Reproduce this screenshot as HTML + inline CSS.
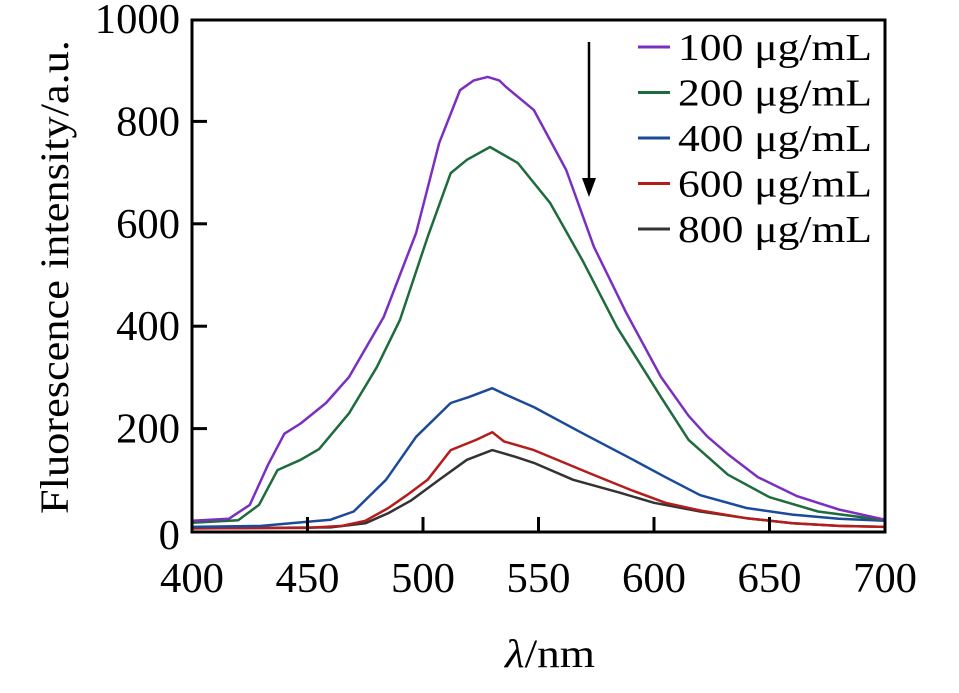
<!DOCTYPE html>
<html><head><meta charset="utf-8"><style>
html,body{margin:0;padding:0;background:#fff;}
svg{display:block;font-family:"Liberation Serif",serif;}
</style></head><body>
<svg id="chart" width="959" height="693" viewBox="0 0 959 693">
<g id="series"></g>
<g id="axes"></g>
<line x1="589" y1="42" x2="589" y2="180" stroke="#000" stroke-width="2.5"/>
<polygon points="582,178 596,178 589,197" fill="#000"/>
<g id="legend"></g>
<text x="550" y="667" font-size="40" text-anchor="middle" textLength="90" lengthAdjust="spacingAndGlyphs"><tspan font-style="italic">λ</tspan>/nm</text>
<text transform="translate(68,277) rotate(-90)" font-size="40" text-anchor="middle" textLength="474" lengthAdjust="spacingAndGlyphs">Fluorescence intensity/a.u.</text>
</svg>
<script>
const xTicks=[400,450,500,550,600,650,700];
const yTicks=[0,200,400,600,800,1000];
const seriesNames=["100 μg/mL","200 μg/mL","400 μg/mL","600 μg/mL","800 μg/mL"];
const seriesColors=["#7b2fc0","#1e6b3c","#1c4a9a","#b51c1c","#333333"];
const s100λ=[400,416,425,433,440,447,458,468,483,497,507,516,522,528,533,536,548,562,574,588,603,615,623,632,645,662,680,700];
const s100v=[20,24,51,130,190,210,250,301,418,582,758,861,880,887,880,867,822,705,555,426,301,225,185,150,105,68,42,22];
const s200λ=[400,420,429,437,447,455,468,480,490,502,512,519,529,541,555,569,584,603,615,632,650,671,700];
const s200v=[16,21,51,119,139,160,230,320,412,574,699,725,750,719,641,529,398,262,178,110,66,38,21];
const s400λ=[400,430,450,460,470,484,497,512,520,530,535,548,569,591,605,620,640,660,680,700];
const s400v=[8,10,18,22,38,100,184,250,262,279,268,242,191,139,105,70,45,32,24,20];
const s600λ=[400,450,465,475,485,493,502,512,523,530,535,548,572,590,605,620,640,660,680,700];
const s600v=[5,6,10,20,45,70,100,158,178,193,175,158,113,80,55,40,25,15,10,8];
const s800λ=[400,460,475,485,495,507,519,530,540,548,565,585,600,620,640,660,680,700];
const s800v=[5,7,15,35,60,100,139,158,145,133,100,75,55,38,25,15,10,8];
const seriesX=[s100λ,s200λ,s400λ,s600λ,s800λ];
const seriesY=[s100v,s200v,s400v,s600v,s800v];
const NS="http://www.w3.org/2000/svg";
const X0=192,X1=885,Y0=531,Y1=19;
function xs(v){return X0+(v-400)/300*(X1-X0);}
function ys(v){return Y0-v/1000*(Y0-Y1);}
function mk(t,a,p){const e=document.createElementNS(NS,t);for(const k in a)e.setAttribute(k,a[k]);p.appendChild(e);return e;}
const sg=document.getElementById('series');
for(let i=seriesX.length-1;i>=0;i--){
 const d=seriesX[i].map((x,j)=>(j?'L':'M')+xs(x).toFixed(1)+','+ys(seriesY[i][j]).toFixed(1)).join('');
 const p=mk('path',{d:d,fill:'none',stroke:seriesColors[i],'stroke-width':2.5,'stroke-linejoin':'round'},sg);
 
 
}
const ax=document.getElementById('axes');
const fr=mk('rect',{x:X0,y:20,width:X1-X0,height:532-20,fill:'none',stroke:'#000','stroke-width':3},ax);


xTicks.forEach(t=>{
 const x=xs(t);
 if(t>400&&t<700){const l=mk('line',{x1:x,y1:532,x2:x,y2:517,stroke:'#000','stroke-width':3},ax);
 
 }
 const tx=mk('text',{x:x,y:592,'font-size':42,'text-anchor':'middle',textLength:64,lengthAdjust:'spacingAndGlyphs'},ax);tx.textContent=t;
 
 
});
yTicks.forEach(t=>{
 const y=ys(t);
 if(t>0&&t<1000){const l=mk('line',{x1:X0,y1:y,x2:X0+15,y2:y,stroke:'#000','stroke-width':3},ax);
 
 }
 const s=String(t);
 const tx=mk('text',{x:180,y:(t===0?549:y+14),'font-size':42,'text-anchor':'end',textLength:21.3*s.length,lengthAdjust:'spacingAndGlyphs'},ax);tx.textContent=s;
 
 
});
const lg=document.getElementById('legend');
seriesNames.forEach((n,i)=>{
 const y=47+i*45.5;
 const l=mk('line',{x1:638,y1:y,x2:670,y2:y,stroke:seriesColors[i],'stroke-width':3},lg);
 
 
 const t=mk('text',{x:678,y:y+13,'font-size':38,textLength:194,lengthAdjust:'spacingAndGlyphs'},lg);t.textContent=n;
 
 
});
</script>
</body></html>
